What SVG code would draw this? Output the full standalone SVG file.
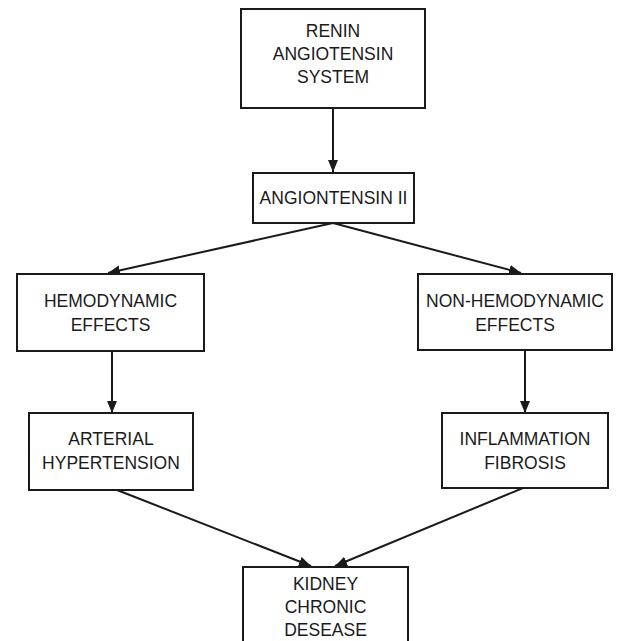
<svg xmlns="http://www.w3.org/2000/svg" width="619" height="641" viewBox="0 0 619 641">
<style>
.box{fill:#fff;stroke:#1a1a1a;stroke-width:2}
.t{font-family:"Liberation Sans",Arial,Helvetica,sans-serif;font-size:17.5px;fill:#1a1a1a;text-anchor:middle}
.c{stroke:#1a1a1a;stroke-width:2;fill:none;marker-end:url(#ah)}
</style>
<defs>
<marker id="ah" markerUnits="userSpaceOnUse" markerWidth="13" markerHeight="11" refX="12" refY="5.5" orient="auto">
<path d="M0,0.5 L12,5.5 L0,10.5 z" fill="#1a1a1a"/>
</marker>
</defs>
<rect width="619" height="641" fill="#fff"/>
<g id="connectors">
<line class="c" x1="333" y1="108" x2="333" y2="172"/>
<line class="c" x1="333" y1="223" x2="108" y2="273"/>
<line class="c" x1="333" y1="223" x2="521" y2="273"/>
<line class="c" x1="112" y1="351" x2="112" y2="413"/>
<line class="c" x1="525" y1="350" x2="525" y2="413"/>
<line class="c" x1="117" y1="490" x2="311" y2="566"/>
<line class="c" x1="523" y1="488" x2="335" y2="566"/>
</g>
<g id="renin">
<rect class="box" x="241" y="9" width="184" height="99"/>
<text class="t" x="333" y="37">RENIN</text>
<text class="t" x="333" y="60">ANGIOTENSIN</text>
<text class="t" x="333" y="83">SYSTEM</text>
</g>
<g id="angiotensin2">
<rect class="box" x="253" y="173" width="161" height="50"/>
<text class="t" x="333.5" y="204">ANGIONTENSIN II</text>
</g>
<g id="hemodynamic">
<rect class="box" x="17" y="274" width="187" height="77"/>
<text class="t" x="110.5" y="307">HEMODYNAMIC</text>
<text class="t" x="110.5" y="331">EFFECTS</text>
</g>
<g id="nonhemodynamic">
<rect class="box" x="418" y="274" width="194" height="76"/>
<text class="t" x="515" y="307">NON-HEMODYNAMIC</text>
<text class="t" x="515" y="331">EFFECTS</text>
</g>
<g id="arterial">
<rect class="box" x="29" y="413" width="164" height="77"/>
<text class="t" x="111" y="445">ARTERIAL</text>
<text class="t" x="111" y="469">HYPERTENSION</text>
</g>
<g id="inflammation">
<rect class="box" x="442" y="413" width="166" height="75"/>
<text class="t" x="525" y="445">INFLAMMATION</text>
<text class="t" x="525" y="469">FIBROSIS</text>
</g>
<g id="kidney">
<rect class="box" x="243" y="567" width="165" height="80"/>
<text class="t" x="325.5" y="590">KIDNEY</text>
<text class="t" x="325.5" y="613">CHRONIC</text>
<text class="t" x="325.5" y="636">DESEASE</text>
</g>
</svg>
